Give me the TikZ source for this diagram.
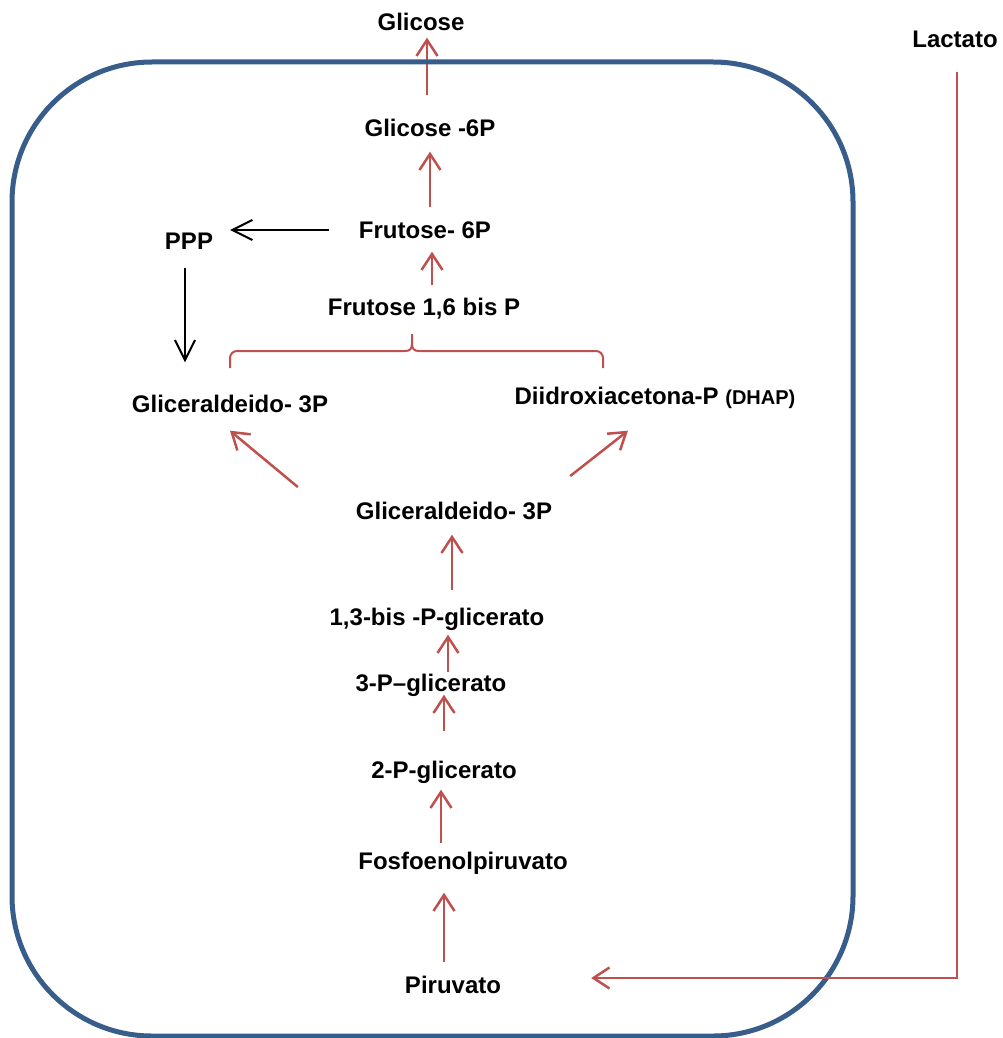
\documentclass[tikz,border=0pt]{standalone}
\usepackage{fontspec}
\setmainfont{Liberation Sans}
\usetikzlibrary{arrows.meta,calc}

\definecolor{pathred}{HTML}{C0504D}
\definecolor{cellblue}{HTML}{385D8A}

\begin{document}
\begin{tikzpicture}[
  x=1pt, y=-1pt,
  font=\fontsize{24}{28}\selectfont\bfseries,
  metab/.style={inner sep=0pt, text height=17pt, text depth=0pt},
  redarr/.style={-{Straight Barb[length=16pt,width=21pt]}, line width=2.5pt, draw=pathred},
  blkarr/.style={-{Straight Barb[length=20pt,width=20pt]}, line width=2pt, draw=black},
  cellwall/.style={draw=cellblue, line width=5pt, rounded corners=140pt}
]
\useasboundingbox (0,0) rectangle (1003,1038);

% metabolites
\node[metab] (glc)  at (421,22)  {Glicose};
\node[metab] (lac)  at (955,39)  {Lactato};
\node[metab] (g6p)  at (430,128) {Glicose -6P};
\node[metab] (f6p)  at (425,230) {Frutose- 6P};
\node[metab] (ppp)  at (189,241) {PPP};
\node[metab] (fbp)  at (424,307) {Frutose 1,6 bis P};
\node[metab] (gapl) at (230,404) {Gliceraldeido- 3P};
\node[metab] (dhap) at (655,396) {Diidroxiacetona-P {\fontsize{20}{22}\selectfont(DHAP)}};
\node[metab] (gapc) at (454,511) {Gliceraldeido- 3P};
\node[metab] (bpg)  at (437,617) {1,3-bis -P-glicerato};
\node[metab] (pg3)  at (431,683) {3-P–glicerato};
\node[metab] (pg2)  at (444,770) {2-P-glicerato};
\node[metab] (pep)  at (463,861) {Fosfoenolpiruvato};
\node[metab] (pyr)  at (453,985) {Piruvato};

\draw[redarr, shorten <=24pt, shorten >=7pt]
  ([xshift=-3pt]g6p.north) -- ([xshift=-3pt]g6p.north |- glc.south);

% cell
\draw[cellwall] (12,62) rectangle (853,1036);

% upper part
\draw[redarr, shorten <=14pt, shorten >=15pt]
  ([xshift=5pt]f6p.north) -- ([xshift=5pt]f6p.north |- g6p.south);
\draw[redarr, shorten <=13pt, shorten >=13pt]
  ([xshift=8pt]fbp.north) -- ([xshift=8pt]fbp.north |- f6p.south);
\draw[blkarr, shorten <=30pt, shorten >=17pt]
  (f6p.west) -- (ppp.east |- f6p.west);
\draw[blkarr, shorten <=18pt, shorten >=33pt]
  ([xshift=-4pt]ppp.south) -- ([xshift=-4pt]ppp.south |- gapl.north);

% brace under Frutose 1,6 bis P
\draw[pathred, line width=2pt, rounded corners=7pt]
  (230,368) -- (230,351) -- (405,351);
\draw[pathred, line width=2pt, rounded corners=7pt]
  (419,351) -- (603,351) -- (603,368);
\draw[pathred, line width=2pt]
  (405,351) .. controls (410,351) and (412,349) .. (412,343) -- (412,334)
  (412,343) .. controls (412,349) and (414,351) .. (419,351);

% split of the triose
\draw[redarr] ($(gapc.west)+(-58,-24)$) -- ($(gapl.south)+(0,18)$);
\draw[redarr] ($(gapc.east)+(18,-35)$) -- ($(dhap.south)+(-27,26)$);

% lower part
\draw[redarr, shorten <=18pt, shorten >=15pt]
  ([xshift=15pt]bpg.north) -- ([xshift=15pt]bpg.north |- gapc.south);
\draw[redarr, shorten <=2pt, shorten >=9pt]
  ([xshift=17pt]pg3.north) -- ([xshift=17pt]pg3.north |- bpg.south);
\draw[redarr, shorten <=30pt, shorten >=3pt]
  (pg2.north) -- (pg2.north |- pg3.south);
\draw[redarr, shorten <=9pt, shorten >=11pt]
  ([xshift=-22pt]pep.north) -- ([xshift=-22pt]pep.north |- pg2.south);
\draw[redarr, shorten <=14pt, shorten >=23pt]
  ([xshift=-9pt]pyr.north) -- ([xshift=-9pt]pyr.north |- pep.south);

% lactato
\draw[redarr, shorten <=24pt, shorten >=90pt]
  ([xshift=2pt]lac.south) |- ([yshift=7pt]pyr.east);

\end{tikzpicture}
\end{document}
